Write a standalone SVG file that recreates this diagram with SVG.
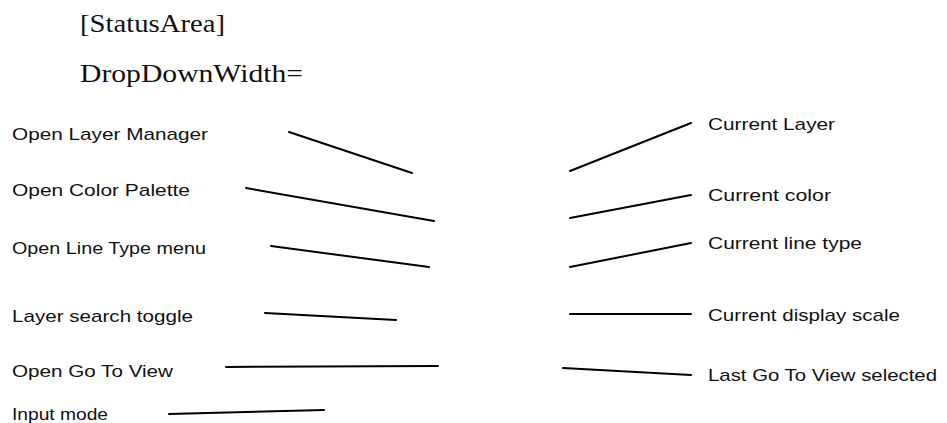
<svg xmlns="http://www.w3.org/2000/svg" width="947" height="423" viewBox="0 0 947 423">
<style>
.hdr{font-family:"Liberation Serif","DejaVu Serif",serif;font-size:26px;fill:#111}
.lbl{font-family:"Liberation Sans","DejaVu Sans",sans-serif;font-size:17px;fill:#111}
.conn line{stroke:#000;stroke-width:2;stroke-linecap:round}
</style>
<rect width="947" height="423" fill="#fff"/>
<g id="header">
<text class="hdr" x="80" y="32" textLength="145" lengthAdjust="spacingAndGlyphs">[StatusArea]</text>
<text class="hdr" x="80" y="82" textLength="223" lengthAdjust="spacingAndGlyphs">DropDownWidth=</text>
</g>
<g id="open-layer-manager"><text class="lbl" x="12" y="140" textLength="196" lengthAdjust="spacingAndGlyphs">Open Layer Manager</text></g>
<g id="open-color-palette"><text class="lbl" x="12" y="196" textLength="178" lengthAdjust="spacingAndGlyphs">Open Color Palette</text></g>
<g id="open-line-type-menu"><text class="lbl" x="12" y="254" textLength="194" lengthAdjust="spacingAndGlyphs">Open Line Type menu</text></g>
<g id="layer-search-toggle"><text class="lbl" x="12" y="322" textLength="181" lengthAdjust="spacingAndGlyphs">Layer search toggle</text></g>
<g id="open-go-to-view"><text class="lbl" x="12" y="377" textLength="161" lengthAdjust="spacingAndGlyphs">Open Go To View</text></g>
<g id="input-mode"><text class="lbl" x="12" y="420" textLength="96" lengthAdjust="spacingAndGlyphs">Input mode</text></g>
<g id="current-layer"><text class="lbl" x="708" y="130" textLength="127" lengthAdjust="spacingAndGlyphs">Current Layer</text></g>
<g id="current-color"><text class="lbl" x="708" y="201" textLength="123" lengthAdjust="spacingAndGlyphs">Current color</text></g>
<g id="current-line-type"><text class="lbl" x="708" y="249" textLength="154" lengthAdjust="spacingAndGlyphs">Current line type</text></g>
<g id="current-display-scale"><text class="lbl" x="708" y="321" textLength="192" lengthAdjust="spacingAndGlyphs">Current display scale</text></g>
<g id="last-go-to-view"><text class="lbl" x="708" y="381" textLength="229" lengthAdjust="spacingAndGlyphs">Last Go To View selected</text></g>
<g id="connectors" class="conn">
<line x1="289" y1="132" x2="412" y2="173"/>
<line x1="246" y1="188" x2="434" y2="221"/>
<line x1="271" y1="246" x2="429" y2="267"/>
<line x1="265" y1="313" x2="396" y2="320"/>
<line x1="226" y1="367" x2="438" y2="366"/>
<line x1="169" y1="414" x2="324" y2="410"/>
<line x1="570" y1="171" x2="691" y2="123"/>
<line x1="570" y1="218" x2="691" y2="195"/>
<line x1="570" y1="267" x2="691" y2="243"/>
<line x1="570" y1="314" x2="691" y2="314"/>
<line x1="563" y1="368" x2="691" y2="375"/>
</g>
</svg>
